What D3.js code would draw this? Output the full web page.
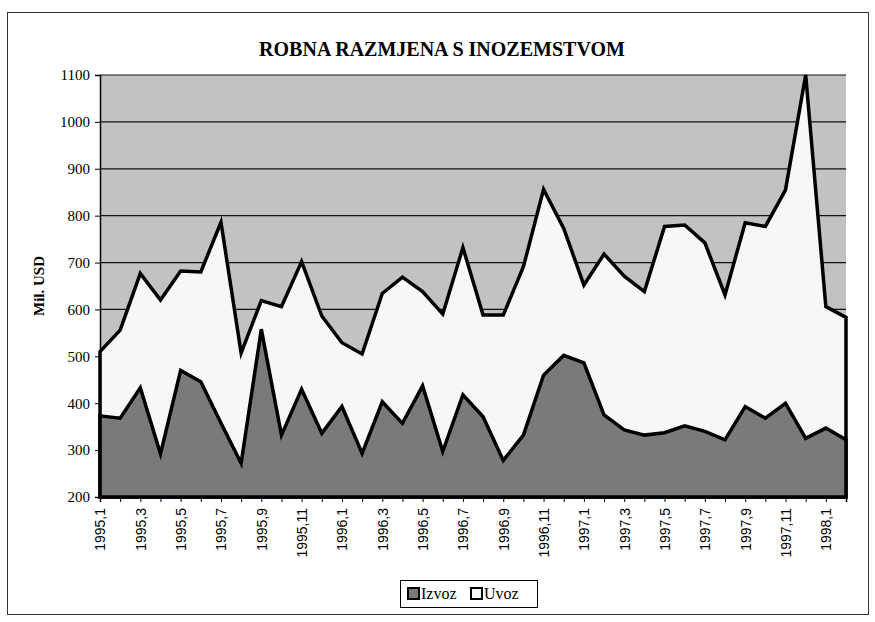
<!DOCTYPE html>
<html>
<head>
<meta charset="utf-8">
<script src="https://cdn.jsdelivr.net/npm/d3@7"></script>
<style>
    body { margin: 0; background: #fff; }
    svg { display: block; }
</style>
</head>
<body>
<div id="chart"></div>
<script>
// months, 1995,1 .. 1998,2
const months = [
    "1995,1", "1995,2", "1995,3", "1995,4", "1995,5", "1995,6", "1995,7", "1995,8", "1995,9", "1995,10", "1995,11", "1995,12",
    "1996,1", "1996,2", "1996,3", "1996,4", "1996,5", "1996,6", "1996,7", "1996,8", "1996,9", "1996,10", "1996,11", "1996,12",
    "1997,1", "1997,2", "1997,3", "1997,4", "1997,5", "1997,6", "1997,7", "1997,8", "1997,9", "1997,10", "1997,11", "1997,12",
    "1998,1", "1998,2"
];

// Mil. USD
const izvoz = [
    373, 368, 433, 292, 470, 446, 358, 272, 558, 332, 430, 336,
    393, 293, 403, 357, 437, 297, 418, 371, 278, 332, 460, 502,
    486, 375, 343, 332, 337, 352, 340, 322, 393, 368, 400, 325,
    347, 322
];
const uvoz = [
    510, 556, 677, 620, 682, 680, 786, 507, 619, 606, 702, 586,
    529, 505, 634, 669, 638, 590, 732, 588, 588, 691, 856, 773,
    652, 718, 671, 638, 777, 780, 742, 631, 785, 777, 855, 1100,
    606, 583
];
const yTicks = [200, 300, 400, 500, 600, 700, 800, 900, 1000, 1100];

class TradeChart {
    constructor() {
        this.width = 875;
        this.height = 622;
        this.plot = { left: 100, right: 846, top: 75, bottom: 497 };

        this.svg = d3.select('#chart').append('svg')
                    .attr('width', this.width)
                    .attr('height', this.height);

        this.x = d3.scalePoint()
                    .domain(months)
                    .range([this.plot.left, this.plot.right]);
        this.y = d3.scaleLinear()
                    .domain([200, 1100])
                    .range([this.plot.bottom, this.plot.top]);

        this.drawFrame();
        this.drawGrid();
        this.drawAreas();
        this.drawAxes();
        this.drawLegend();
    }

    drawFrame() {
        this.svg.append('rect')
            .attr('x', 7.5).attr('y', 12.5)
            .attr('width', 861).attr('height', 602)
            .attr('fill', '#fff')
            .attr('stroke', '#333')
            .attr('stroke-width', 1);

        this.svg.append('text')
            .attr('x', 442).attr('y', 56)
            .attr('text-anchor', 'middle')
            .attr('font-family', 'Liberation Serif, Times New Roman, serif')
            .attr('font-weight', 'bold')
            .attr('font-size', 20)
            .text('ROBNA RAZMJENA S INOZEMSTVOM');
    }

    drawGrid() {
        const p = this.plot;
        this.svg.append('rect')
            .attr('x', p.left).attr('y', p.top)
            .attr('width', p.right - p.left).attr('height', p.bottom - p.top)
            .attr('fill', '#c2c2c2');

        this.svg.append('g')
            .selectAll('line')
            .data(yTicks)
            .join('line')
            .attr('x1', p.left).attr('x2', p.right)
            .attr('y1', d => this.y(d)).attr('y2', d => this.y(d))
            .attr('stroke', '#111')
            .attr('stroke-width', 1.2);
    }

    drawAreas() {
        const area = values => d3.area()
            .x((d, i) => this.x(months[i]))
            .y0(this.y(200))
            .y1(d => this.y(d))(values);

        this.svg.append('path')
            .attr('d', area(uvoz))
            .attr('fill', '#f7f7f7')
            .attr('stroke', '#000')
            .attr('stroke-width', 3.5)
            .attr('stroke-linejoin', 'miter');

        this.svg.append('path')
            .attr('d', area(izvoz))
            .attr('fill', '#7a7a7a')
            .attr('stroke', '#000')
            .attr('stroke-width', 3.5)
            .attr('stroke-linejoin', 'miter');
    }

    drawAxes() {
        const p = this.plot;

        const yAxis = this.svg.append('g')
            .attr('transform', 'translate(' + p.left + ',0)')
            .call(d3.axisLeft(this.y)
                .tickValues(yTicks)
                .tickFormat(d3.format('d'))
                .tickSize(5).tickPadding(5));
        yAxis.selectAll('text')
            .attr('font-family', 'Liberation Serif, Times New Roman, serif')
            .attr('font-size', 15)
            .attr('fill', '#000');

        const xAxis = this.svg.append('g')
            .attr('transform', 'translate(0,' + p.bottom + ')')
            .call(d3.axisBottom(this.x)
                .tickValues(months)
                .tickSize(5)
                .tickFormat((d, i) => i % 2 === 0 ? d : ''));
        xAxis.selectAll('text')
            .attr('font-family', 'Liberation Sans, Arial, sans-serif')
            .attr('font-size', 14)
            .attr('fill', '#000')
            .attr('text-anchor', 'end')
            .attr('dy', '0.35em')
            .attr('transform', 'translate(0,11) rotate(-90)')
            .attr('x', 0).attr('y', 0);

        [yAxis, xAxis].forEach(a => {
            a.select('.domain').attr('stroke', '#000').attr('stroke-width', 1.5);
            a.selectAll('.tick line').attr('stroke', '#000');
        });

        this.svg.append('text')
            .attr('transform', 'translate(44,286) rotate(-90)')
            .attr('text-anchor', 'middle')
            .attr('font-family', 'Liberation Serif, Times New Roman, serif')
            .attr('font-weight', 'bold')
            .attr('font-size', 15)
            .text('Mil. USD');
    }

    drawLegend() {
        const g = this.svg.append('g')
            .attr('transform', 'translate(400,580)');
        g.append('rect')
            .attr('x', 0.5).attr('y', 0.5)
            .attr('width', 137).attr('height', 27)
            .attr('fill', '#fff')
            .attr('stroke', '#000');

        const items = [
            { name: 'Izvoz', fill: '#7a7a7a', x: 8 },
            { name: 'Uvoz', fill: '#f7f7f7', x: 71 }
        ];
        const item = g.selectAll('.item')
            .data(items)
            .join('g')
            .attr('class', 'item')
            .attr('transform', d => 'translate(' + d.x + ',0)');
        item.append('rect')
            .attr('x', 0).attr('y', 8)
            .attr('width', 11).attr('height', 11)
            .attr('fill', d => d.fill)
            .attr('stroke', '#000')
            .attr('stroke-width', 2);
        item.append('text')
            .attr('x', 13).attr('y', 19)
            .attr('font-family', 'Liberation Serif, Times New Roman, serif')
            .attr('font-size', 16)
            .text(d => d.name);
    }
}

const chart = new TradeChart();
</script>
</body>
</html>
